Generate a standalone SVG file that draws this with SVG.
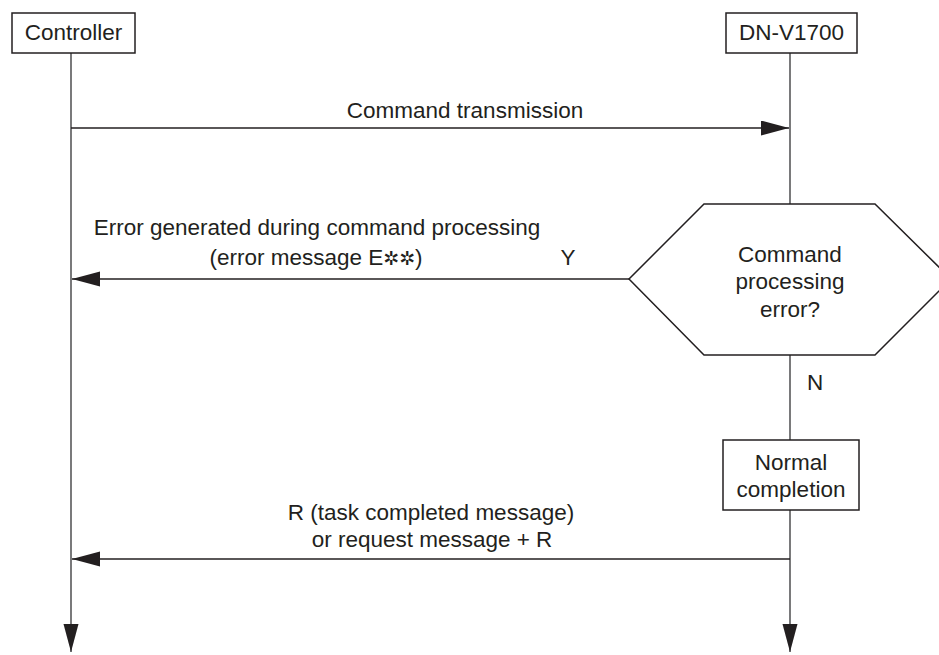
<svg xmlns="http://www.w3.org/2000/svg" width="939" height="655" viewBox="0 0 939 655">
<defs>
<style>
text{font-family:"Liberation Sans",Arial,Helvetica,sans-serif;font-size:22.5px;fill:#231f20;text-anchor:middle}
.box{fill:#fff;stroke:#231f20;stroke-width:1.5}
.life{stroke:#58585a;stroke-width:1.6;fill:none}
.msg{stroke:#231f20;stroke-width:1.5;fill:none}
.sym{font-family:"DejaVu Sans",sans-serif;font-size:19px}
</style>
<marker id="ah" markerUnits="userSpaceOnUse" markerWidth="30" markerHeight="16" refX="28" refY="7.5" orient="auto">
<path d="M0,0 L28,7.5 L0,15 Z" fill="#231f20"/>
</marker>
</defs>
<rect width="939" height="655" fill="#fff"/>
<g id="connectors">
<line class="life" x1="71" y1="53" x2="71" y2="652" marker-end="url(#ah)"/>
<line class="life" x1="790" y1="53" x2="790" y2="204"/>
<line class="life" x1="790" y1="355" x2="790" y2="440"/>
<line class="life" x1="790" y1="510" x2="790" y2="652" marker-end="url(#ah)"/>
<line class="msg" x1="71" y1="128" x2="789" y2="128" marker-end="url(#ah)"/>
<line class="msg" x1="629" y1="279" x2="72" y2="279" marker-end="url(#ah)"/>
<line class="msg" x1="790" y1="559" x2="72" y2="559" marker-end="url(#ah)"/>
<text x="465" y="118">Command transmission</text>
<text x="317" y="235">Error generated during command processing</text>
<text x="316" y="265">(error message E<tspan class="sym">✲✲</tspan>)</text>
<text x="568" y="265">Y</text>
<text x="815" y="390">N</text>
<text x="431" y="520">R (task completed message)</text>
<text x="432" y="547">or request message + R</text>
</g>
<g id="controller">
<rect class="box" x="12" y="13" width="123" height="40"/>
<text x="73.5" y="40">Controller</text>
</g>
<g id="dnv1700">
<rect class="box" x="726" y="13" width="131" height="40"/>
<text x="791.5" y="40">DN-V1700</text>
</g>
<g id="decision">
<polygon class="box" points="629,279 704,204 875,204 951,279 875,355 704,355"/>
<text x="790" y="262">Command</text>
<text x="790" y="289">processing</text>
<text x="790" y="317">error?</text>
</g>
<g id="normal">
<rect class="box" x="723" y="440" width="136" height="70"/>
<text x="791" y="470">Normal</text>
<text x="791" y="497">completion</text>
</g>
</svg>
